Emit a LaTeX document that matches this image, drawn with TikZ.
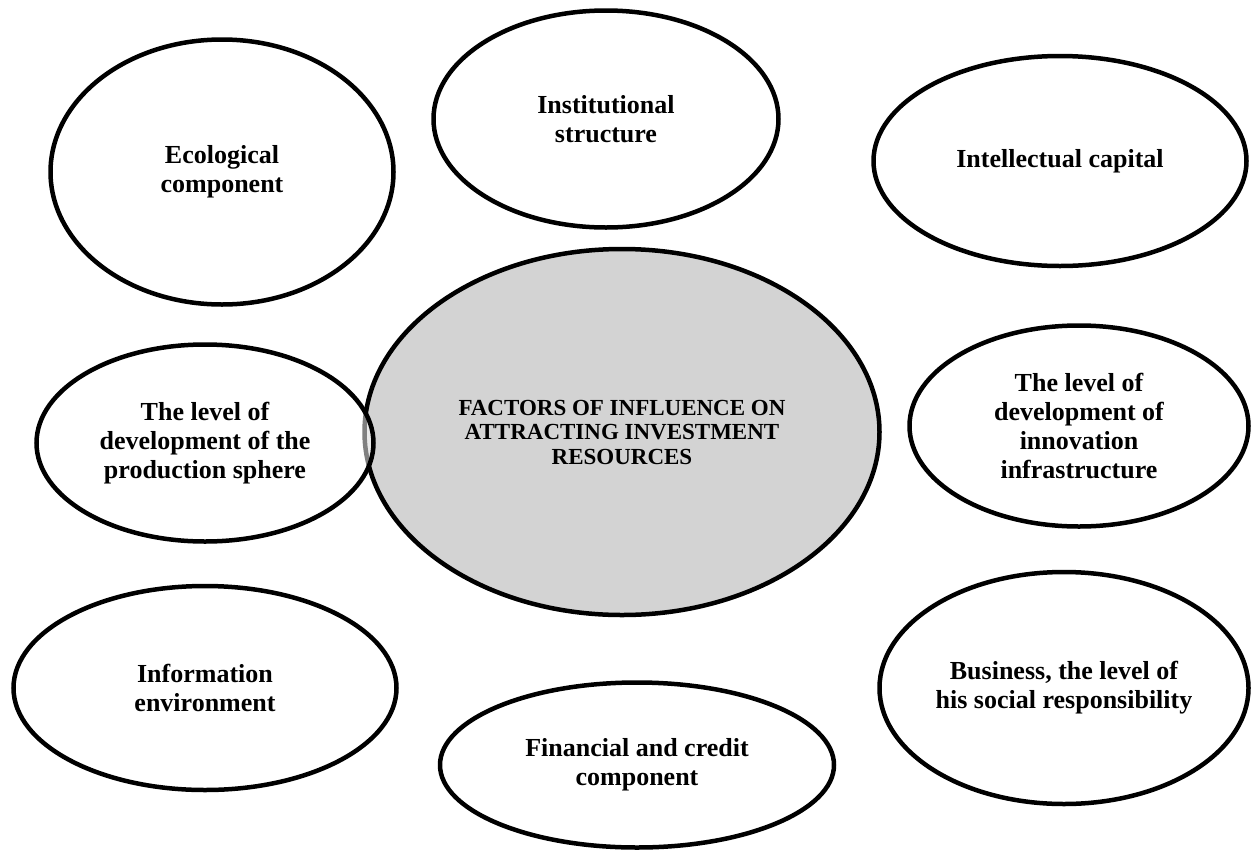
\documentclass[tikz,border=0pt]{standalone}
\usepackage{fontspec}
\setmainfont{Liberation Serif}
\usepackage{tikz}
\usetikzlibrary{shapes.geometric}
\definecolor{centergray}{HTML}{D3D3D3}
\tikzset{factor/.style={ellipse, draw, line width=4.5pt, fill=white,
    inner sep=0pt, align=center,
    font=\bfseries\fontsize{26}{29}\selectfont}}
\tikzset{mainfactor/.style={factor, fill=centergray,
    font=\bfseries\fontsize{23}{24.5}\selectfont}}

\begin{document}
\begin{tikzpicture}[x=1pt,y=-1pt]

  \useasboundingbox (0,0) rectangle (1251,852);

  %% central ellipse first, the production one lies half over it
  \node[mainfactor, minimum width=515pt, minimum height=366pt] (attract)
    at (622,432) {FACTORS OF INFLUENCE ON\\ATTRACTING INVESTMENT\\RESOURCES};

  \node[factor, fill opacity=0.5, text opacity=1,
    minimum width=337pt, minimum height=197pt] (production)
    at (205,443) {The level of\\development of the\\production sphere};

  %% top row
  \node[factor, minimum width=343pt, minimum height=265pt] (ecology)
    at (222,172) {Ecological\\component};
  \node[factor, minimum width=345pt, minimum height=217pt] (institution)
    at (606,119) {Institutional\\structure};
  \node[factor, minimum width=373pt, minimum height=210pt] (intellect)
    at (1060,161) {Intellectual capital};

  %% right side
  \node[factor, minimum width=339pt, minimum height=201pt] (innovation)
    at (1079,426) {The level of\\development of\\innovation\\infrastructure};
  \node[factor, minimum width=369pt, minimum height=232pt] (business)
    at (1064,688) {Business, the level of\\his social responsibility};

  %% bottom row
  \node[factor, minimum width=383pt, minimum height=204pt] (information)
    at (205,688) {Information\\environment};
  \node[factor, minimum width=394pt, minimum height=165pt] (finance)
    at (637,765) {Financial and credit\\component};

\end{tikzpicture}
\end{document}
